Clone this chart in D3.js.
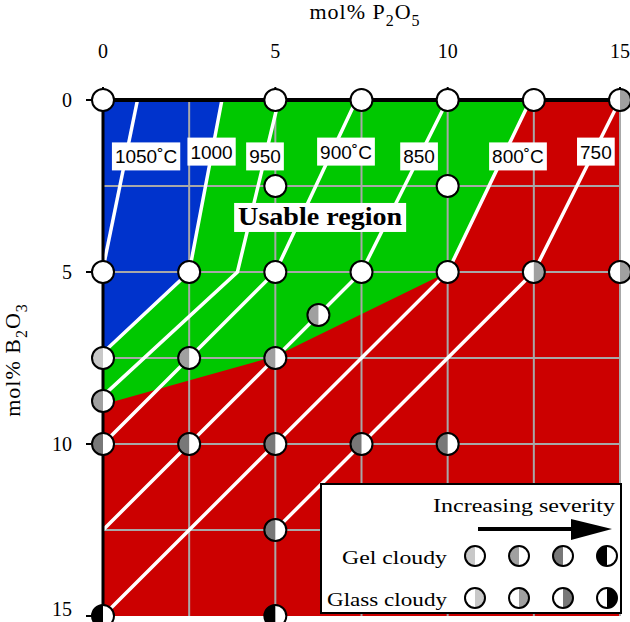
<!DOCTYPE html>
<html>
<head>
<meta charset="utf-8">
<script src="https://cdn.jsdelivr.net/npm/d3@7"></script>
<style>
  body { margin: 0; background: #fff; }
  svg { display: block; }
</style>
</head>
<body>
<div id="chart"></div>
<script>
// axis ticks, mol%
const xTicks = [0, 5, 10, 15]
const yTicks = [0, 5, 10, 15]
const gridVals = [2.5, 5, 7.5, 10, 12.5, 15]

// regions as [P2O5, B2O3] corners
const blueRegion = [[0, 0], [3.45, 0], [2.5, 5], [0, 7.35]]
const greenRegion = [[3.45, 0], [12.4, 0], [10, 5], [5, 7.45], [0, 8.85], [0, 7.35], [2.5, 5]]

// liquidus isotherms
const isoLabels = ["1050˚C", "1000", "950", "900˚C", "850", "800˚C", "750"]
const isoLines = [
  [[1.0, 0], [0, 4.9]],
  [[3.45, 0], [2.5, 5], [0, 7.35]],
  [[5.1, 0], [3.9, 5], [0, 8.6]],
  [[7.35, 0], [5, 5], [0, 10]],
  [[10, 0], [7.5, 5], [0, 12.5]],
  [[12.4, 0], [10, 5], [0, 15]],
  [[15, 0], [12.5, 5], [5, 12.5]]
]
const isoLabelAt = [[1.25, 1.64], [3.15, 1.5], [4.7, 1.64], [7.05, 1.5], [9.17, 1.64], [12.04, 1.64], [14.3, 1.5]]

// melts: P2O5, B2O3, kind, severity (0-4)
const samples = [
  [0, 0, "clear", 0], [5, 0, "clear", 0], [7.5, 0, "clear", 0], [10, 0, "clear", 0], [12.5, 0, "clear", 0], [15, 0, "glass", 2],
  [5, 2.5, "clear", 0], [10, 2.5, "clear", 0],
  [0, 5, "clear", 0], [2.5, 5, "clear", 0], [5, 5, "clear", 0], [7.5, 5, "clear", 0], [10, 5, "clear", 0], [12.5, 5, "glass", 2], [15, 5, "glass", 2],
  [6.25, 6.25, "gel", 2],
  [0, 7.5, "gel", 1], [2.5, 7.5, "gel", 2], [5, 7.5, "gel", 2],
  [0, 8.75, "gel", 2],
  [0, 10, "gel", 3], [2.5, 10, "gel", 3], [5, 10, "gel", 3], [7.5, 10, "gel", 3], [10, 10, "gel", 3],
  [5, 12.5, "gel", 3],
  [0, 15, "gel", 4], [5, 15, "gel", 4]
]
const legendRows = ["Gel cloudy", "Glass cloudy"]
const legendLevels = [1, 2, 3, 4]

const shade = [null, "#c8c8c8", "#a0a0a0", "#787878", "#000"]

const W = 630, H = 622
const svg = d3.select("#chart").append("svg")
  .attr("width", W).attr("height", H)

const x = d3.scaleLinear().domain([0, 15]).range([103, 620])
const y = d3.scaleLinear().domain([0, 15]).range([100, 616])
const line = d3.line().x(d => x(d[0])).y(d => y(d[1]))

// background regions
svg.append("rect")
  .attr("x", x(0)).attr("y", y(0))
  .attr("width", x(15) - x(0)).attr("height", y(15) - y(0))
  .attr("fill", "#cc0000")
svg.append("path").attr("d", line(blueRegion) + "Z").attr("fill", "#0033cc")
svg.append("path").attr("d", line(greenRegion) + "Z").attr("fill", "#00c800")

// grid
const grid = svg.append("g").attr("stroke", "#a8a8a8").attr("stroke-width", 2)
grid.selectAll("line.v").data(gridVals).join("line")
  .attr("x1", d => x(d)).attr("x2", d => x(d))
  .attr("y1", y(0)).attr("y2", y(15))
grid.selectAll("line.h").data(gridVals.slice(0, -1)).join("line")
  .attr("x1", x(0)).attr("x2", x(15))
  .attr("y1", d => y(d)).attr("y2", d => y(d))

// isotherms
svg.append("g").selectAll("path").data(isoLines).join("path")
  .attr("d", d => line(d))
  .attr("fill", "none").attr("stroke", "#fff").attr("stroke-width", 3.5)

// borders
svg.append("line").attr("x1", x(0)).attr("x2", x(15)).attr("y1", y(0)).attr("y2", y(0))
  .attr("stroke", "#000").attr("stroke-width", 4)
svg.append("line").attr("x1", x(0)).attr("x2", x(0)).attr("y1", y(0)).attr("y2", H)
  .attr("stroke", "#000").attr("stroke-width", 3)

// ticks
svg.append("g").selectAll("line").data(xTicks).join("line")
  .attr("x1", d => x(d)).attr("x2", d => x(d)).attr("y1", 87).attr("y2", y(0))
  .attr("stroke", "#000").attr("stroke-width", 2)
svg.append("g").selectAll("line").data(yTicks).join("line")
  .attr("x1", 86).attr("x2", x(0)).attr("y1", d => y(d)).attr("y2", d => y(d))
  .attr("stroke", "#000").attr("stroke-width", 2)
svg.append("g").selectAll("text").data(xTicks).join("text")
  .attr("x", d => x(d)).attr("y", 58)
  .attr("text-anchor", "middle")
  .attr("font-family", "Liberation Serif, serif").attr("font-size", 20)
  .text(d => d)
svg.append("g").selectAll("text").data(yTicks).join("text")
  .attr("x", 72).attr("y", d => Math.min(y(d) + 7, H - 6))
  .attr("text-anchor", "end")
  .attr("font-family", "Liberation Serif, serif").attr("font-size", 20)
  .text(d => d)

// axis titles
const xt = svg.append("text").attr("x", 365).attr("y", 19)
  .attr("text-anchor", "middle")
  .attr("font-family", "Liberation Serif, serif").attr("font-size", 22)
  .attr("letter-spacing", 1)
xt.append("tspan").text("mol% P")
xt.append("tspan").attr("dy", 7).attr("font-size", 16).text("2")
xt.append("tspan").attr("dy", -7).text("O")
xt.append("tspan").attr("dy", 7).attr("font-size", 16).text("5")

const yt = svg.append("text").attr("transform", "translate(20,360) rotate(-90)")
  .attr("text-anchor", "middle")
  .attr("font-family", "Liberation Serif, serif").attr("font-size", 22)
  .attr("letter-spacing", 1)
yt.append("tspan").text("mol% B")
yt.append("tspan").attr("dy", 7).attr("font-size", 16).text("2")
yt.append("tspan").attr("dy", -7).text("O")
yt.append("tspan").attr("dy", 7).attr("font-size", 16).text("3")

// isotherm labels
isoLabels.forEach((lab, i) => {
  const g = svg.append("g")
  const cx = x(isoLabelAt[i][0]), cy = y(isoLabelAt[i][1])
  const t = g.append("text").attr("x", cx).attr("y", cy + 7)
    .attr("text-anchor", "middle")
    .attr("font-family", "Liberation Sans, Arial, sans-serif").attr("font-size", 19)
    .text(lab)
  const bb = t.node().getBBox()
  g.insert("rect", "text")
    .attr("x", bb.x - 3).attr("y", cy - 14)
    .attr("width", bb.width + 6).attr("height", 28)
    .attr("fill", "#fff")
})

// usable region label
{
  const g = svg.append("g")
  const cx = x(6.3), cy = y(3.4)
  g.append("rect").attr("x", cx - 86).attr("y", cy - 14).attr("width", 172).attr("height", 29).attr("fill", "#fff")
  g.append("text").attr("x", cx - 82).attr("y", cy + 8)
    .attr("font-family", "Liberation Serif, serif").attr("font-weight", "bold").attr("font-size", 25)
    .attr("textLength", 164).attr("lengthAdjust", "spacingAndGlyphs")
    .text("Usable region")
}

function drawSample(g, cx, cy, kind, level, r) {
  g.append("circle").attr("cx", cx).attr("cy", cy).attr("r", r).attr("fill", "#fff")
  if (kind !== "clear") {
    const sweep = kind === "gel" ? 0 : 1
    g.append("path")
      .attr("d", `M${cx},${cy - r} A${r},${r} 0 0 ${sweep} ${cx},${cy + r} Z`)
      .attr("fill", shade[level])
  }
  g.append("circle").attr("cx", cx).attr("cy", cy).attr("r", r)
    .attr("fill", "none").attr("stroke", "#000").attr("stroke-width", 2)
}

const pts = svg.append("g")
samples.forEach(d => drawSample(pts, x(d[0]), y(d[1]), d[2], d[3], 11))

// legend
const lg = svg.append("g").attr("transform", "translate(321,484)")
lg.append("rect").attr("width", 300).attr("height", 129)
  .attr("fill", "#fff").attr("stroke", "#000").attr("stroke-width", 2)
lg.append("text").attr("x", 112).attr("y", 28)
  .attr("font-family", "Liberation Serif, serif").attr("font-size", 19)
  .attr("textLength", 182).attr("lengthAdjust", "spacingAndGlyphs")
  .text("Increasing severity")
lg.append("line").attr("x1", 157).attr("x2", 262).attr("y1", 45).attr("y2", 45)
  .attr("stroke", "#000").attr("stroke-width", 4)
lg.append("path").attr("d", "M250,35 L291,45 L250,56 Z").attr("fill", "#000")

legendRows.forEach((row, i) => {
  const ry = 72 + i * 42
  lg.append("text").attr("x", 126).attr("y", ry + 8)
    .attr("text-anchor", "end")
    .attr("font-family", "Liberation Serif, serif").attr("font-size", 19)
    .attr("textLength", i === 0 ? 105 : 120).attr("lengthAdjust", "spacingAndGlyphs")
    .text(row)
  legendLevels.forEach((lv, j) => {
    drawSample(lg, 154 + j * 44, ry, i === 0 ? "gel" : "glass", lv, 10)
  })
})
</script>
</body>
</html>
